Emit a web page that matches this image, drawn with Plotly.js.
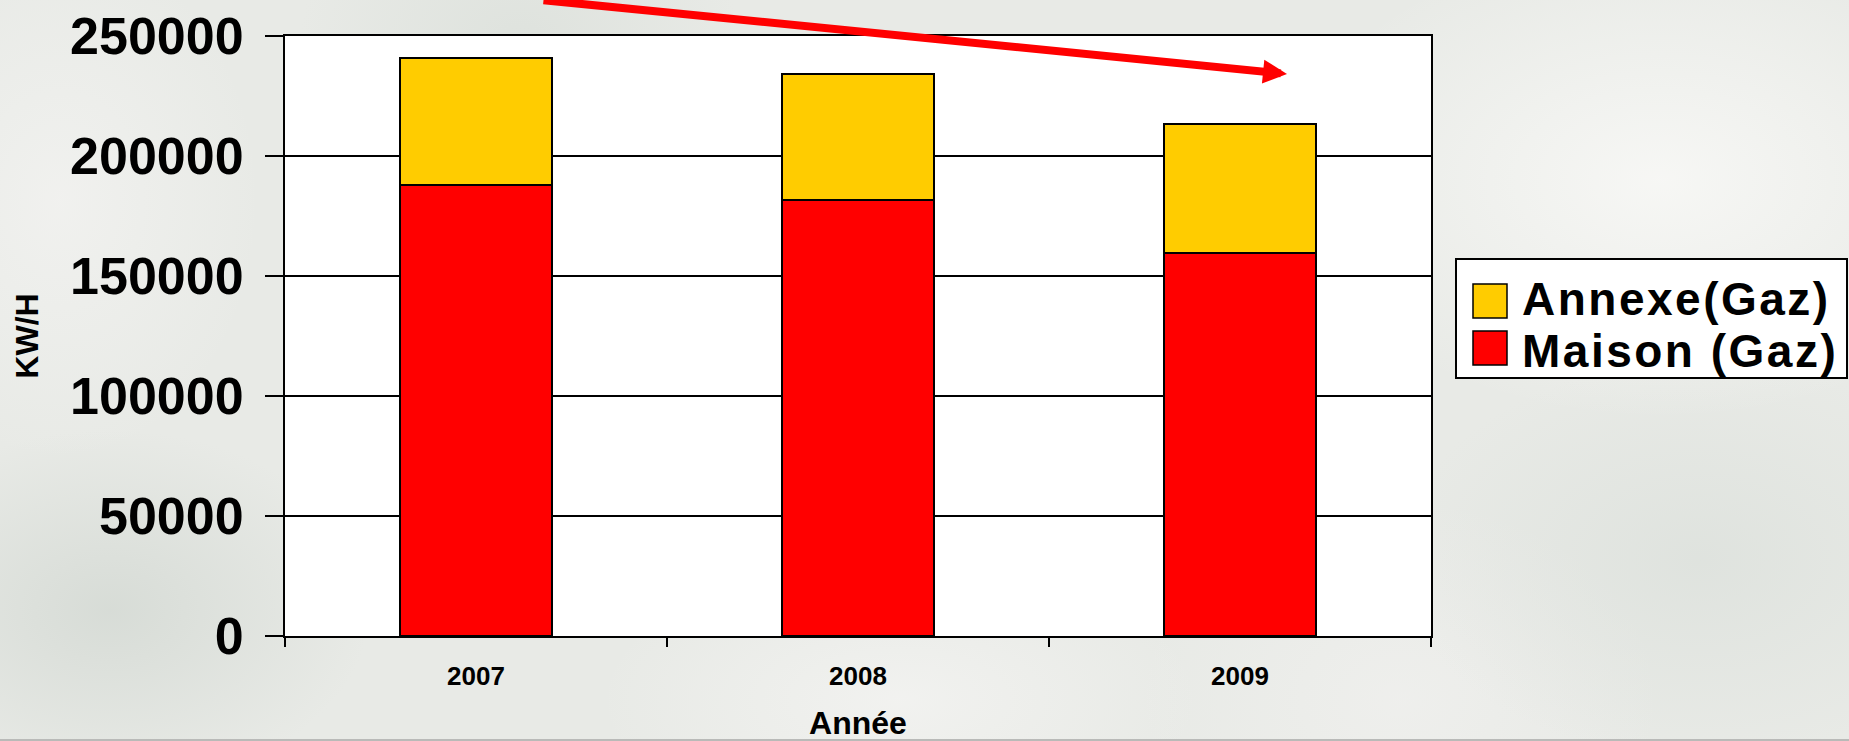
<!DOCTYPE html>
<html>
<head>
<meta charset="utf-8">
<script src="https://cdn.plot.ly/plotly-3.0.1.min.js"></script>
<style>
  html, body { margin: 0; padding: 0; }
  body {
    width: 1849px; height: 741px; overflow: hidden; position: relative;
    background:
      radial-gradient(ellipse 260px 180px at 110px 610px, rgba(208,214,208,0.7), rgba(208,214,208,0) 100%),
      radial-gradient(ellipse 220px 160px at 520px 40px, rgba(214,220,214,0.55), rgba(214,220,214,0) 100%),
      radial-gradient(ellipse 380px 240px at 1660px 180px, rgba(249,249,247,0.85), rgba(249,249,247,0) 100%),
      radial-gradient(ellipse 300px 200px at 1700px 560px, rgba(218,223,218,0.65), rgba(218,223,218,0) 100%),
      radial-gradient(ellipse 300px 140px at 900px 700px, rgba(243,243,241,0.85), rgba(243,243,241,0) 100%),
      radial-gradient(ellipse 200px 260px at 60px 200px, rgba(242,242,240,0.85), rgba(242,242,240,0) 100%),
      radial-gradient(ellipse 260px 200px at 1400px 700px, rgba(240,240,238,0.8), rgba(240,240,238,0) 100%),
      #e8eae6;
  }
  #chart { width: 1849px; height: 741px; position: absolute; left: 0; top: 0; }
  #bottomline { position: absolute; left: 0; bottom: 0; width: 1849px; height: 2px; background: #b9bab8; }
  .annotation-text { letter-spacing: 2.5px; }
</style>
</head>
<body>
<div id="chart"></div>
<div id="bottomline"></div>
<script>
// ---- data ----
const years = ['2007', '2008', '2009'];
const maisonGaz = [188100, 181600, 159500];
const annexeGaz = [52700, 52700, 54000];
const seriesNames = ['Annexe(Gaz)', 'Maison (Gaz)'];
const seriesColors = ['#FFCC00', '#FF0000'];
const yTickValues = [0, 50000, 100000, 150000, 200000, 250000];
const xAxisTitle = 'Année';
const yAxisTitle = 'KW/H';

// ---- layout geometry (pixels) ----
const W = 1849, H = 741;
const M = { l: 285, r: 418, t: 36, b: 105 };
const PW = W - M.l - M.r, PH = H - M.t - M.b;
const px = x => (x - M.l) / PW;          // page px -> paper x
const py = y => (H - M.b - y) / PH;      // page px -> paper y

const FONT = '"Liberation Sans", Arial, Helvetica, sans-serif';

const traces = [
  {
    type: 'bar', name: seriesNames[1], x: years, y: maisonGaz,
    marker: { color: seriesColors[1], line: { color: '#000', width: 2 } },
    width: 0.4, showlegend: false, hoverinfo: 'x+y+name'
  },
  {
    type: 'bar', name: seriesNames[0], x: years, y: annexeGaz,
    marker: { color: seriesColors[0], line: { color: '#000', width: 2 } },
    width: 0.4, showlegend: false, hoverinfo: 'x+y+name'
  }
];

// custom legend (large swatches, as in the original)
const legBox = { x0: 1456, x1: 1847, y0: 259, y1: 378 };
const rows = [
  { name: seriesNames[0], color: seriesColors[0], ty: 299, sy: 301 },
  { name: seriesNames[1], color: seriesColors[1], ty: 351, sy: 348 }
];
const shapes = [
  { type: 'rect', xref: 'paper', yref: 'paper', layer: 'above',
    x0: px(legBox.x0), x1: px(legBox.x1), y0: py(legBox.y1), y1: py(legBox.y0),
    fillcolor: '#ffffff', line: { color: '#000', width: 2 } }
];
const annotations = [];
rows.forEach(r => {
  shapes.push({ type: 'rect', xref: 'paper', yref: 'paper', layer: 'above',
    x0: px(1473), x1: px(1507), y0: py(r.sy + 17), y1: py(r.sy - 17),
    fillcolor: r.color, line: { color: '#000', width: 1.5 } });
  annotations.push({ xref: 'paper', yref: 'paper', x: px(1520), y: py(r.ty),
    xanchor: 'left', yanchor: 'middle', showarrow: false, text: r.name,
    font: { family: FONT, size: 46, color: '#000', weight: 'bold' } });
});

// red trend arrow
annotations.push({
  xref: 'paper', yref: 'paper', x: px(1287), y: py(74),
  ax: -745, ay: -75, axref: 'pixel', ayref: 'pixel',
  text: '', showarrow: true, arrowhead: 2, arrowsize: 0.6, arrowwidth: 8,
  arrowcolor: '#FF0000', standoff: 0
});

const layout = {
  width: W, height: H,
  margin: M,
  paper_bgcolor: 'rgba(0,0,0,0)',
  plot_bgcolor: '#ffffff',
  barmode: 'stack',
  showlegend: false,
  font: { family: FONT, color: '#000' },
  xaxis: {
    type: 'category',
    tickson: 'boundaries',
    ticks: 'outside', ticklen: 9, tickwidth: 2, tickcolor: '#000',
    showline: true, linecolor: '#000', linewidth: 2, mirror: true,
    showgrid: false,
    tickfont: { family: FONT, size: 26, weight: 'bold', color: '#000' },
    ticklabelstandoff: 16,
    title: { text: xAxisTitle, font: { family: FONT, size: 32, weight: 'bold', color: '#000' }, standoff: 33 }
  },
  yaxis: {
    range: [0, 250000],
    tickmode: 'array', tickvals: yTickValues, ticktext: yTickValues.map(String),
    ticks: 'outside', ticklen: 18, tickwidth: 2, tickcolor: '#000',
    showline: true, linecolor: '#000', linewidth: 2, mirror: true,
    showgrid: true, gridcolor: '#000', gridwidth: 1.3,
    zeroline: false,
    tickfont: { family: FONT, size: 52, weight: 'bold', color: '#000' },
    ticklabelstandoff: 11,
    title: { text: yAxisTitle, font: { family: FONT, size: 32, weight: 'bold', color: '#000' }, standoff: 22 }
  },
  shapes: shapes,
  annotations: annotations
};

Plotly.newPlot('chart', traces, layout, { displayModeBar: false, staticPlot: true });
</script>
</body>
</html>
